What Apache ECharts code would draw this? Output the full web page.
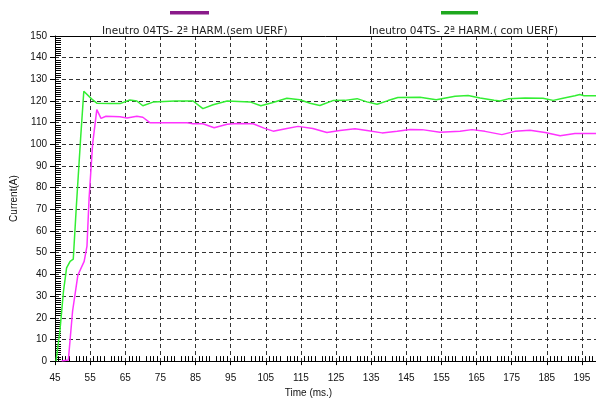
<!DOCTYPE html>
<html><head><meta charset="utf-8">
<script src="https://cdn.jsdelivr.net/npm/echarts@6/dist/echarts.min.js"></script>
<style>html,body{margin:0;padding:0;background:#fff}#c{width:596px;height:403px}</style>
</head><body><div id="c"></div>
<script>
const seriesNames = ['Ineutro 04TS- 2ª HARM.(sem UERF)', 'Ineutro 04TS- 2ª HARM.( com UERF)'];
const xTickLabels = [45, 55, 65, 75, 85, 95, 105, 115, 125, 135, 145, 155, 165, 175, 185, 195];

// Series 1: sem UERF (magenta)
const timeSem = [46.9, 48.8, 50.0, 51.5, 53.3, 54.1, 54.7, 55.7, 56.9, 58.1, 59.5, 63.5, 65.5, 68.3, 70.0, 72.0, 74.9, 82.6, 84.3, 87.1, 90.3, 94.0, 96.8, 101.4, 104.5, 107.1, 111.0, 114.2, 118.4, 122.4, 126.1, 130.4, 133.8, 138.1, 142.4, 146.1, 149.5, 154.6, 160.3, 163.7, 167.4, 172.2, 175.9, 180.2, 184.5, 188.8, 193.0, 199.0];
const currentSem = [0, 0.5, 23, 39.6, 46, 53, 75, 100, 116, 112, 113, 112.7, 112.2, 113, 112.5, 110, 110, 110, 109.5, 109.5, 107.7, 109.3, 109.6, 109.5, 107.5, 106.1, 107.3, 108.3, 107.3, 105.5, 106.4, 107.2, 106.4, 105.3, 106, 106.9, 106.8, 105.6, 106.1, 106.8, 106, 104.5, 106, 106.5, 105.5, 104, 105, 105];

// Series 2: com UERF (green)
const timeCom = [45.3, 46.4, 47.4, 48.3, 49.3, 50.2, 51.1, 52.3, 53.2, 55.4, 56.9, 60.7, 63.5, 66.3, 68.3, 70.0, 72.9, 79.2, 84.3, 87.1, 90.0, 94.0, 100.5, 103.6, 106.8, 111.0, 114.7, 117.6, 120.4, 124.1, 127.5, 131.0, 133.8, 136.7, 139.8, 142.6, 148.9, 153.5, 158.9, 162.6, 166.0, 170.0, 171.7, 174.0, 178.8, 183.9, 186.8, 189.6, 193.0, 194.4, 195.6, 199.0];
const currentCom = [0, 14, 32, 43, 46, 47, 72, 103, 124.5, 121, 119, 118.8, 118.8, 120.5, 120, 117.8, 119.5, 120, 120, 116.5, 118.3, 120, 119.6, 117.8, 119.2, 121.3, 120.6, 119, 117.9, 120.2, 120.3, 121.1, 119.6, 118.5, 120.2, 121.6, 121.7, 120.6, 122.2, 122.5, 121.4, 120.4, 120, 121, 121.4, 121.3, 120.3, 121.3, 122.4, 123, 122.4, 122.4];

const zip = (xs, ys) => xs.map((x, i) => [x, ys[i]]);

const chart = echarts.init(document.getElementById('c'));
const axisFont = { fontFamily: 'Liberation Sans, Arial, sans-serif', fontSize: 10, color: '#111' };
const dashed = { color: '#333', width: 1, type: [4, 3] };
const legendText = { fontFamily: 'DejaVu Sans', fontSize: 10.5, color: '#222' };

chart.setOption({
  animation: false,
  backgroundColor: '#fff',
  grid: { left: 55, top: 36, right: 0, bottom: 40, containLabel: false },
  legend: [
    { data: [seriesNames[0]], left: 92, top: 21, icon: 'none', itemWidth: 0, itemHeight: 4, textStyle: legendText },
    { data: [seriesNames[1]], left: 359, top: 21, icon: 'none', itemWidth: 0, itemHeight: 4, textStyle: legendText }
  ],
  graphic: [
    { type: 'rect', left: 170, top: 11, shape: { width: 39, height: 3.5 }, style: { fill: '#8a1a8a' } },
    { type: 'rect', left: 441, top: 11, shape: { width: 37, height: 3.5 }, style: { fill: '#1fa81f' } }
  ],
  xAxis: [
    {
      type: 'value', min: 45, max: 199, interval: 5, position: 'bottom',
      name: 'Time (ms.)', nameLocation: 'middle', nameGap: 25,
      nameTextStyle: { fontFamily: 'Liberation Sans, Arial, sans-serif', fontSize: 10, color: '#111', padding: [0, 34, 0, 0] },
      axisLine: { show: true, onZero: false, lineStyle: { color: '#000', width: 1 } },
      axisTick: { show: true, customValues: xTickLabels, length: 4, lineStyle: { color: '#000' } },
      minorTick: { show: true, splitNumber: 5, length: -5, lineStyle: { color: '#000' } },
      axisLabel: { customValues: xTickLabels, margin: 12, ...axisFont },
      splitLine: { show: true, lineStyle: dashed }
    },
    {
      type: 'value', min: 45, max: 199, position: 'top',
      axisLine: { show: true, onZero: false, lineStyle: { color: '#000', width: 1 } },
      axisTick: { show: false }, axisLabel: { show: false }, splitLine: { show: false }
    }
  ],
  yAxis: {
    type: 'value', min: 0, max: 150, interval: 10,
    name: 'Current(A)', nameLocation: 'middle', nameGap: 29,
    nameTextStyle: { fontFamily: 'Liberation Sans, Arial, sans-serif', fontSize: 10, color: '#111' },
    axisLine: { show: true, onZero: false, lineStyle: { color: '#000', width: 1 } },
    axisTick: { show: true, length: 5, lineStyle: { color: '#000' } },
    minorTick: { show: true, splitNumber: 10, length: -6, lineStyle: { color: '#000' } },
    axisLabel: { margin: 8, ...axisFont },
    splitLine: { show: true, lineStyle: dashed }
  },
  series: [
    { name: seriesNames[0], type: 'line', xAxisIndex: 0, data: zip(timeSem, currentSem), symbol: 'none',
      lineStyle: { color: '#ff33ff', width: 1.5 }, itemStyle: { color: '#8a1a8a' }, z: 3 },
    { name: seriesNames[1], type: 'line', xAxisIndex: 0, data: zip(timeCom, currentCom), symbol: 'none',
      lineStyle: { color: '#33ee33', width: 1.5 }, itemStyle: { color: '#1fa81f' }, z: 4 }
  ]
});
</script></body></html>
